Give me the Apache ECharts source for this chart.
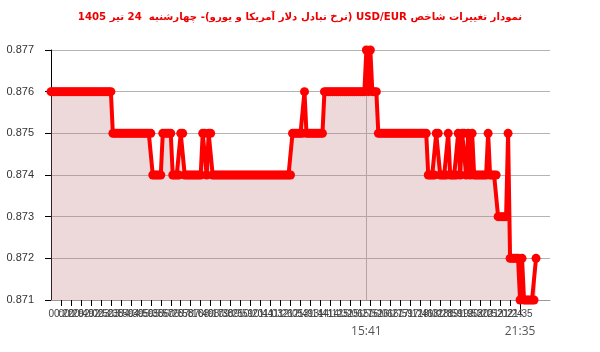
<!DOCTYPE html>
<html><head><meta charset="utf-8">
<script src="https://cdn.jsdelivr.net/npm/echarts@6/dist/echarts.min.js"></script>
<style>html,body{margin:0;padding:0;background:#fff}#c{width:600px;height:352px}</style>
</head><body><div id="c" dir="rtl"></div>
<script>
var titleText = 'نمودار تغییرات شاخص USD/EUR (نرخ تبادل دلار آمریکا و یورو)- چهارشنبه  24 تیر 1405';

var values = [
0.876,0.876,0.876,0.876,0.876,0.876,0.876,0.876,0.876,0.876,
0.876,0.876,0.876,0.876,0.876,0.876,0.876,0.876,0.876,0.876,
0.876,0.876,0.876,0.876,0.876,0.876,0.876,0.876,0.876,0.876,
0.876,0.875,0.875,0.875,0.875,0.875,0.875,0.875,0.875,0.875,
0.875,0.875,0.875,0.875,0.875,0.875,0.875,0.875,0.875,0.875,
0.875,0.874,0.874,0.874,0.874,0.874,0.875,0.875,0.875,0.875,
0.875,0.874,0.874,0.874,0.874,0.875,0.875,0.874,0.874,0.874,
0.874,0.874,0.874,0.874,0.874,0.874,0.875,0.875,0.874,0.875,
0.875,0.874,0.874,0.874,0.874,0.874,0.874,0.874,0.874,0.874,
0.874,0.874,0.874,0.874,0.874,0.874,0.874,0.874,0.874,0.874,
0.874,0.874,0.874,0.874,0.874,0.874,0.874,0.874,0.874,0.874,
0.874,0.874,0.874,0.874,0.874,0.874,0.874,0.874,0.874,0.874,
0.874,0.875,0.875,0.875,0.875,0.875,0.875,0.876,0.875,0.875,
0.875,0.875,0.875,0.875,0.875,0.875,0.875,0.876,0.876,0.876,
0.876,0.876,0.876,0.876,0.876,0.876,0.876,0.876,0.876,0.876,
0.876,0.876,0.876,0.876,0.876,0.876,0.876,0.876,0.877,0.876,
0.877,0.876,0.876,0.876,0.875,0.875,0.875,0.875,0.875,0.875,
0.875,0.875,0.875,0.875,0.875,0.875,0.875,0.875,0.875,0.875,
0.875,0.875,0.875,0.875,0.875,0.875,0.875,0.875,0.875,0.874,
0.874,0.874,0.874,0.875,0.875,0.874,0.874,0.874,0.874,0.875,
0.874,0.874,0.874,0.874,0.875,0.874,0.875,0.875,0.874,0.875,
0.874,0.875,0.874,0.874,0.874,0.874,0.874,0.874,0.874,0.875,
0.874,0.874,0.874,0.874,0.873,0.873,0.873,0.873,0.873,0.875,
0.872,0.872,0.872,0.872,0.872,0.871,0.872,0.871,0.871,0.871,
0.871,0.871,0.871,0.872
];

var tickLabels = [
'00:00','00:22','00:29','00:49','02:02','02:52','03:35','03:59','04:39','04:59',
'05:35','05:57','06:25','06:58','07:16','07:49','08:17','08:38','09:25','09:59',
'10:20','10:44','11:03','11:26','12:05','12:49','13:14','13:41','14:12','14:32',
'15:06','15:27','15:52','16:06','16:27','16:59','17:12','17:46','18:02','18:28',
'18:59','19:19','19:53','20:20','20:52','21:02','21:24','21:35','22:01'
];
var tickStep = 5;

var markerLabels = ['15:41', '21:35'];
var markerIndex = [158, 235];

var yMin = 0.871, yMax = 0.877, yStep = 0.001;

var tickValues = tickLabels.map(function (_, i) { return i * tickStep; });

var chart = echarts.init(document.getElementById('c'), null, {renderer: 'canvas'});
chart.setOption({
  animation: false,
  backgroundColor: '#fff',
  title: {
    text: titleText,
    left: 'center',
    top: 7,
    textStyle: {color: '#ee0000', fontSize: 10.2, fontWeight: 'bold', fontFamily: 'DejaVu Sans'}
  },
  grid: {left: 51, right: 50, top: 50, bottom: 52, containLabel: false},
  xAxis: [{
    type: 'value',
    min: 0,
    max: 250,
    axisLine: {show: true, lineStyle: {color: '#999', width: 1}},
    axisTick: {show: true, length: 6, customValues: tickValues, lineStyle: {color: '#000'}},
    axisLabel: {
      show: true,
      customValues: tickValues,
      margin: 9,
      fontSize: 10,
      color: '#444',
      fontFamily: 'Liberation Sans',
      formatter: function (v) { return tickLabels[Math.round(v / tickStep)] || ''; }
    },
    splitLine: {show: false}
  }, {
    type: 'value',
    min: 0,
    max: 250,
    position: 'bottom',
    axisLine: {show: false},
    axisTick: {show: true, length: 14, customValues: [markerIndex[1]], lineStyle: {color: '#000'}},
    axisLabel: {
      show: true,
      customValues: markerIndex,
      margin: 26,
      fontSize: 12,
      color: '#555',
      fontFamily: 'Open Sans',
      formatter: function (v) { var k = markerIndex.indexOf(Math.round(v)); return k >= 0 ? markerLabels[k] : ''; }
    },
    splitLine: {show: false}
  }],
  yAxis: {
    type: 'value',
    min: yMin,
    max: yMax,
    interval: yStep,
    axisLine: {show: true, lineStyle: {color: '#000', width: 1}},
    axisTick: {show: true, length: 6, lineStyle: {color: '#000'}},
    axisLabel: {
      margin: 17,
      fontSize: 11,
      color: '#333',
      fontFamily: 'Liberation Sans',
      formatter: function (v) { return v.toFixed(3); }
    },
    splitLine: {show: true, lineStyle: {color: '#b4b4b4', width: 1}}
  },
  series: [{
    type: 'line',
    xAxisIndex: 0,
    data: values.map(function (v, i) { return [i, v]; }),
    showSymbol: true,
    showAllSymbol: true,
    symbol: 'circle',
    symbolSize: 9,
    itemStyle: {color: '#ff0000'},
    lineStyle: {color: '#ff0000', width: 4},
    areaStyle: {color: 'rgba(190,120,120,0.4)', origin: 'start'},
    markLine: {
      silent: true,
      symbol: ['none', 'none'],
      label: {show: false},
      lineStyle: {color: '#b4b4b4', width: 1, type: 'solid'},
      data: [{xAxis: markerIndex[0]}],
      z: 1
    },
    z: 3
  }]
});
</script></body></html>
